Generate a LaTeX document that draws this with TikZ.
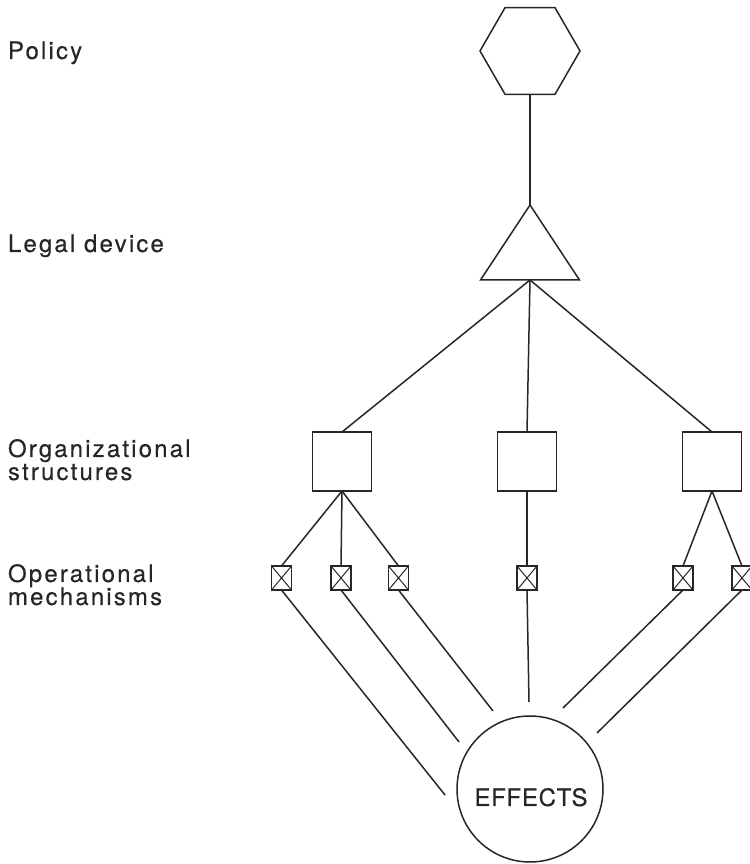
\documentclass[tikz,border=0pt]{standalone}
\usepackage{fontspec}
\setmainfont{TeX Gyre Heros}[LetterSpace=9, FakeBold=0.3]
\newfontfamily\capsfont{TeX Gyre Heros}[LetterSpace=3, FakeBold=0.3]
\usetikzlibrary{shapes.geometric}
\definecolor{ink}{HTML}{262626}
\begin{document}
\begin{tikzpicture}[x=1pt,y=1pt,
  line width=1.5pt, draw=ink, color=ink,
  every node/.style={inner sep=0pt, outer sep=0pt},
  lbl/.style={anchor=base west, align=left, font=\fontsize{24}{23}\selectfont},
  hexa/.style={draw, regular polygon, regular polygon sides=6, minimum size=100pt},
  tri/.style={draw, isosceles triangle, isosceles triangle stretches,
              shape border rotate=90, minimum width=99pt, minimum height=75pt},
  orgbox/.style={draw, rectangle, minimum width=59pt, minimum height=59pt},
  mech/.style={draw, rectangle, line width=1.2pt, minimum width=20pt, minimum height=24pt,
    path picture={\draw[line width=1pt]
      (path picture bounding box.north west) -- (path picture bounding box.south east)
      (path picture bounding box.north east) -- (path picture bounding box.south west);}},
  effect/.style={draw, circle, minimum size=146pt},
  link/.style={line width=1.5pt}
]
\useasboundingbox (0,0) rectangle (749,864);

% level labels (base anchor sits on the last line)
\node[lbl] (lpolicy) at (8,805) {Policy};
\node[lbl] (llegal)  at (8,612) {Legal device};
\node[lbl] (lorg)    at (8,384) {Organizational\\structures};
\node[lbl] (lops)    at (8,259) {Operational\\mechanisms};

% hierarchy
\node[hexa] (policy) at (530,813) {};
\node[tri, anchor=apex] (legal) at (530,659) {};
\node[orgbox] (o1) at (342,402.5) {};
\node[orgbox] (o2) at (527,402.5) {};
\node[orgbox] (o3) at (712,402.5) {};

\node[mech] (m1) at (281.5,286) {};
\node[mech] (m2) at (341,286) {};
\node[mech] (m3) at (398.5,286) {};
\node[mech] (m4) at (527,286) {};
\node[mech] (m5) at (683,286) {};
\node[mech] (m6) at (742,286) {};

\node[effect] (eff) at (530,75) {};
\node[font=\capsfont\fontsize{24}{24}\selectfont, anchor=base] (efftxt) at (531,58) {EFFECTS};

% free ends of the lines running towards the effects
\coordinate (e1) at (445,69);
\coordinate (e2) at (459,122);
\coordinate (e3) at (493,153);
\coordinate (e4) at (529,162);
\coordinate (e5) at (563,156);
\coordinate (e6) at (597,131);

% connectors
\draw[link] (policy.south) -- (legal.apex);
\draw[link] (legal.lower side) -- (o1.north);
\draw[link] (legal.lower side) -- (o2.north);
\draw[link] (legal.lower side) -- (o3.north);
\draw[link] (o1.south) -- (m1.north);
\draw[link] (o1.south) -- (m2.north);
\draw[link] (o1.south) -- (m3.north);
\draw[link] (o2.south) -- (m4.north);
\draw[link] (o3.south) -- (m5.north);
\draw[link] (o3.south) -- (m6.north);
\draw[link] (m1.south) -- (e1);
\draw[link] (m2.south) -- (e2);
\draw[link] (m3.south) -- (e3);
\draw[link] (m4.south) -- (e4);
\draw[link] (m5.south) -- (e5);
\draw[link] (m6.south) -- (e6);
\end{tikzpicture}
\end{document}
